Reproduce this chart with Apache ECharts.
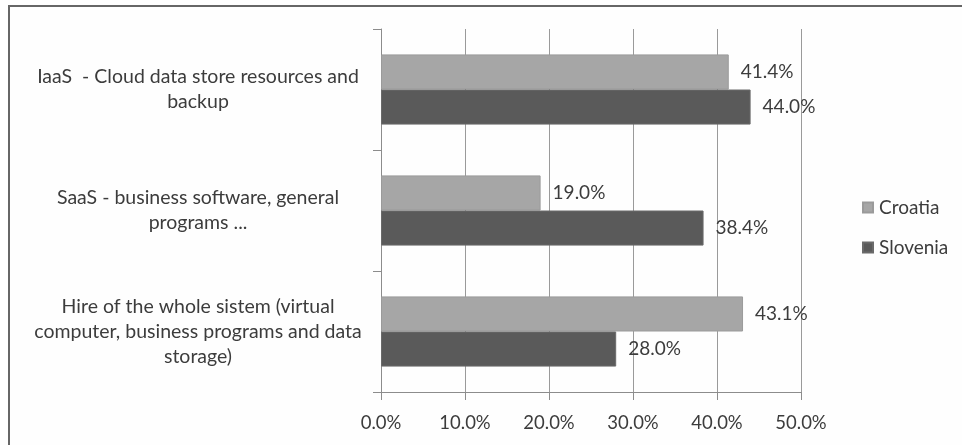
<!DOCTYPE html>
<html>
<head>
<meta charset="utf-8">
<script src="https://cdn.jsdelivr.net/npm/echarts@6/dist/echarts.min.js"></script>
<style>
  html, body { margin: 0; padding: 0; background: #fefefe; }
  #main { width: 962px; height: 445px; }
</style>
</head>
<body>
<div id="main"></div>
<script>
// categories, top to bottom
var categories = [
    'IaaS  - Cloud data store resources and\nbackup',
    'SaaS - business software, general\nprograms ...',
    'Hire of the whole sistem (virtual\ncomputer, business programs and data\nstorage)'
];
var seriesNames = ['Croatia', 'Slovenia'];
var croatia = [41.4, 19.0, 43.1];
var slovenia = [44.0, 38.4, 28.0];

var fontName = 'Lato';
var textColor = '#3c3c3c';

var chart = echarts.init(document.getElementById('main'));

function pct(v) { return v.toFixed(1) + '%'; }

var option = {
    backgroundColor: '#fefefe',
    animation: false,
    textStyle: { fontFamily: fontName },
    graphic: [
        // frame of the original picture (top and left edge only)
        { type: 'line', shape: { x1: 8, y1: 6, x2: 962, y2: 6 }, style: { stroke: '#666', lineWidth: 2 } },
        { type: 'line', shape: { x1: 9, y1: 6, x2: 9, y2: 445 }, style: { stroke: '#666', lineWidth: 2 } }
    ],
    grid: {
        left: 381,
        right: 161,
        top: 29,
        bottom: 53
    },
    legend: {
        orient: 'vertical',
        left: 857,
        top: 193,
        itemWidth: 10,
        itemHeight: 10,
        itemGap: 21,
        icon: 'rect',
        data: seriesNames,
        textStyle: { fontFamily: fontName, fontSize: 19, color: textColor, padding: [0, 0, 0, 1] }
    },
    xAxis: {
        type: 'value',
        min: 0,
        max: 50,
        interval: 10,
        axisLine: { show: true, lineStyle: { color: '#8c8c8c', width: 1 } },
        axisTick: { show: true, length: 8, lineStyle: { color: '#8c8c8c' } },
        splitLine: { show: true, lineStyle: { color: '#9a9a9a', width: 1 } },
        axisLabel: {
            margin: 22,
            fontSize: 18.5,
            color: textColor,
            fontFamily: fontName,
            formatter: pct
        }
    },
    yAxis: {
        type: 'category',
        inverse: true,
        data: categories,
        axisLine: { show: true, lineStyle: { color: '#8c8c8c', width: 1 } },
        axisTick: { show: true, length: 8, lineStyle: { color: '#8c8c8c' } },
        axisLabel: {
            align: 'center',
            margin: 183,
            fontSize: 19.5,
            lineHeight: 25,
            color: textColor,
            fontFamily: fontName
        }
    },
    series: [
        {
            name: seriesNames[0],
            type: 'bar',
            data: croatia,
            barGap: '0%',
            barCategoryGap: '42%',
            itemStyle: { color: '#a6a6a6', borderColor: '#9a9a9a', borderWidth: 1 },
            label: {
                show: true,
                position: 'right',
                distance: 12,
                fontSize: 19,
                color: textColor,
                fontFamily: fontName,
                formatter: function (p) { return pct(p.value); }
            }
        },
        {
            name: seriesNames[1],
            type: 'bar',
            data: slovenia,
            barGap: '0%',
            barCategoryGap: '42%',
            itemStyle: { color: '#5a5a5a', borderColor: '#6a6a6a', borderWidth: 1 },
            label: {
                show: true,
                position: 'right',
                distance: 12,
                fontSize: 19,
                color: textColor,
                fontFamily: fontName,
                formatter: function (p) { return pct(p.value); }
            }
        }
    ]
};

chart.setOption(option);
</script>
</body>
</html>
